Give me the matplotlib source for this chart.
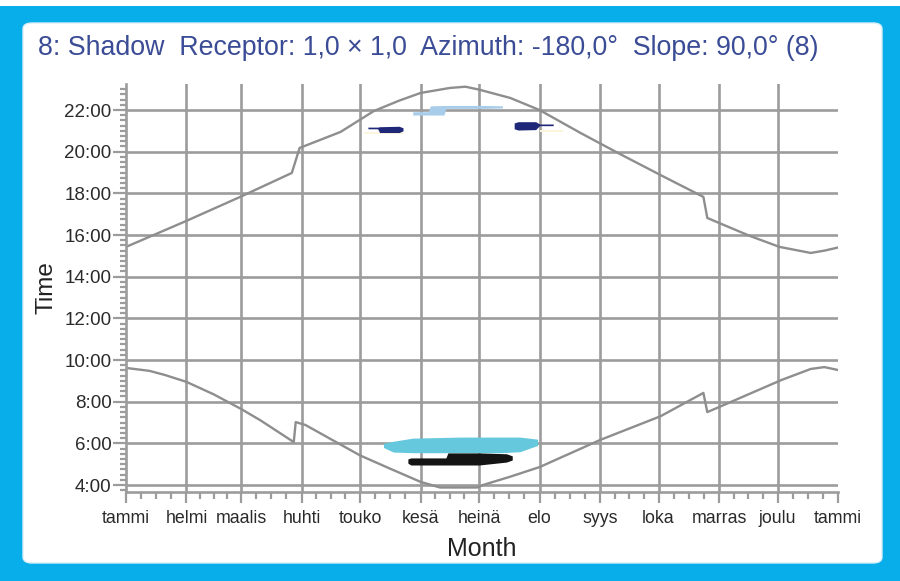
import matplotlib
matplotlib.use("Agg")
import matplotlib.pyplot as plt
from matplotlib.patches import Rectangle, FancyBboxPatch
import numpy as np

plt.rcParams['font.family'] = ['Liberation Sans', 'DejaVu Sans']

# ---------------- data ----------------
month_labels = ["tammi", "helmi", "maalis", "huhti", "touko", "kesä", "heinä",
                "elo", "syys", "loka", "marras", "joulu", "tammi"]
month_starts = [0, 31, 59, 90, 120, 151, 181, 212, 243, 273, 304, 334, 365]

# sunset curve (day of year, hour)
sunset_days = [0, 31, 59, 85, 89, 110, 127, 140, 151, 166, 174, 181, 197, 212,
               233, 253, 274, 296, 298, 304, 320, 335, 351, 358, 365]
sunset_hours = [15.43, 16.68, 17.85, 18.98, 20.18, 20.95, 21.95, 22.45, 22.82,
                23.06, 23.12, 22.98, 22.58, 22.0, 20.9, 19.9, 18.88, 17.83,
                16.82, 16.58, 15.95, 15.43, 15.14, 15.25, 15.4]

# sunrise curve
sunrise_days = [0, 12, 20, 31, 45, 59, 69, 86, 87, 92, 115, 120, 135, 151, 161,
                180, 183, 197, 212, 243, 274, 296, 298, 304, 336, 351, 358, 365]
sunrise_hours = [9.62, 9.48, 9.28, 8.95, 8.35, 7.65, 7.1, 6.06, 7.02, 6.88,
                 5.68, 5.42, 4.8, 4.15, 3.88, 3.88, 4.0, 4.4, 4.86, 6.16, 7.3,
                 8.42, 7.5, 7.74, 9.04, 9.57, 9.66, 9.52]

# shadow periods (day, start hour, end hour)
morning_cyan_days = [132, 137, 147, 171, 192, 202, 211]
morning_cyan_start = [5.8, 5.58, 5.55, 5.55, 5.55, 5.6, 5.9]
morning_cyan_end = [6.0, 6.1, 6.25, 6.3, 6.3, 6.3, 6.2]

morning_black_days = [144.5, 146, 164, 165, 181, 195, 198]
morning_black_start = [5.05, 4.96, 4.96, 4.96, 4.96, 5.1, 5.2]
morning_black_end = [5.25, 5.3, 5.3, 5.54, 5.54, 5.5, 5.4]

evening_light_days = [147, 155, 156, 163, 164, 185, 193]
evening_light_start = [21.76, 21.76, 21.76, 21.76, 22.08, 22.08, 22.1]
evening_light_end = [21.92, 21.92, 22.2, 22.22, 22.22, 22.22, 22.2]

evening_navy1_days = [124, 129, 130, 140, 142]
evening_navy1_start = [21.1, 21.1, 20.92, 20.92, 21.0]
evening_navy1_end = [21.18, 21.18, 21.2, 21.22, 21.15]

evening_navy2_days = [199, 201, 210, 212, 219]
evening_navy2_start = [21.1, 21.04, 21.06, 21.25, 21.25]
evening_navy2_end = [21.38, 21.44, 21.44, 21.33, 21.33]

evening_pale1_days = [122, 142]
evening_pale1_start = [20.85, 20.85]
evening_pale1_end = [20.95, 20.95]
evening_pale2_days = [212, 224]
evening_pale2_start = [20.95, 20.95]
evening_pale2_end = [21.05, 21.05]

y_major = list(range(4, 23, 2))
y_labels = [f"{h}:00" for h in y_major]

title = "8: Shadow  Receptor: 1,0 × 1,0  Azimuth: -180,0°  Slope: 90,0° (8)"

# ---------------- figure ----------------
W, H = 900, 581
fig = plt.figure(figsize=(W / 100, H / 100), dpi=100)
fig.patch.set_facecolor("white")

def fx(px):
    return px / W

def fy(py):
    return 1 - py / H

# cyan frame
fig.patches.append(Rectangle((0, 0), 1, fy(6), transform=fig.transFigure,
                             facecolor="#08AEEA", edgecolor="none", zorder=0))
fig.patches.append(FancyBboxPatch((fx(23), fy(563)), fx(882) - fx(23), fy(23) - fy(563),
                                  boxstyle="round,pad=0,rounding_size=0.01",
                                  transform=fig.transFigure, facecolor="white",
                                  edgecolor="#d8eef8", linewidth=1, zorder=0.5))

ax = fig.add_axes([fx(126), fy(492), fx(838) - fx(126), fy(84) - fy(492)])
ax.set_zorder(5)
ax.set_facecolor("none")
ax.set_xlim(0, 365)
ax.set_ylim(3.664, 23.25)

grid_c = "#9c9c9c"
for h in y_major:
    ax.axhline(h, color=grid_c, lw=1.9, zorder=1)
for d in month_starts[1:-1]:
    ax.axvline(d, color=grid_c, lw=1.9, zorder=1)

curve_c = "#8e8e8e"
ax.plot(sunset_days, sunset_hours, color=curve_c, lw=1.7, zorder=2)
ax.plot(sunrise_days, sunrise_hours, color=curve_c, lw=1.7, zorder=2)

ax.fill_between(evening_pale1_days, evening_pale1_start, evening_pale1_end, color="#FBF5DC", lw=0, zorder=3)
ax.fill_between(evening_pale2_days, evening_pale2_start, evening_pale2_end, color="#FBF5DC", lw=0, zorder=3)
ax.fill_between(morning_cyan_days, morning_cyan_start, morning_cyan_end, color="#66C8DD", lw=0, zorder=3)
ax.fill_between(morning_black_days, morning_black_start, morning_black_end, color="#141414", lw=0, zorder=4)
ax.fill_between(evening_light_days, evening_light_start, evening_light_end, color="#A8CDEA", lw=0, zorder=3)
ax.fill_between(evening_navy1_days, evening_navy1_start, evening_navy1_end, color="#1F2878", lw=0, zorder=4)
ax.fill_between(evening_navy2_days, evening_navy2_start, evening_navy2_end, color="#1F2878", lw=0, zorder=4)

for s in ["top", "right"]:
    ax.spines[s].set_visible(False)
for s in ["left", "bottom"]:
    ax.spines[s].set_color(grid_c)
    ax.spines[s].set_linewidth(1.9)

ax.set_xticks(month_starts)
ax.set_xticklabels(month_labels)
minor_x = []
for a, b in zip(month_starts[:-1], month_starts[1:]):
    minor_x += [a + (b - a) * k / 4 for k in (1, 2, 3)]
ax.set_xticks(minor_x, minor=True)
ax.set_yticks(y_major)
ax.set_yticklabels(y_labels)
ax.set_yticks(np.arange(3.75, 23.25, 0.25), minor=True)

ax.tick_params(axis="x", which="major", length=8, width=1.6, color=grid_c,
               labelsize=12.8, labelcolor="#2a2a2a", pad=5)
ax.tick_params(axis="x", which="minor", length=5, width=1.6, color=grid_c)
ax.tick_params(axis="y", which="major", length=9.5, width=1.6, color=grid_c,
               labelsize=13.5, labelcolor="#2a2a2a", pad=1)
ax.tick_params(axis="y", which="minor", length=4.5, width=1.6, color=grid_c)

ax.set_xlabel("Month", fontsize=18, color="#222222", labelpad=7)
ax.set_ylabel("Time", fontsize=17.5, color="#222222", labelpad=5)

fig.text(fx(38), fy(48), title, fontsize=19.3, color="#3B4C96",
         ha="left", va="center")

fig.savefig("out.png", dpi=100)
